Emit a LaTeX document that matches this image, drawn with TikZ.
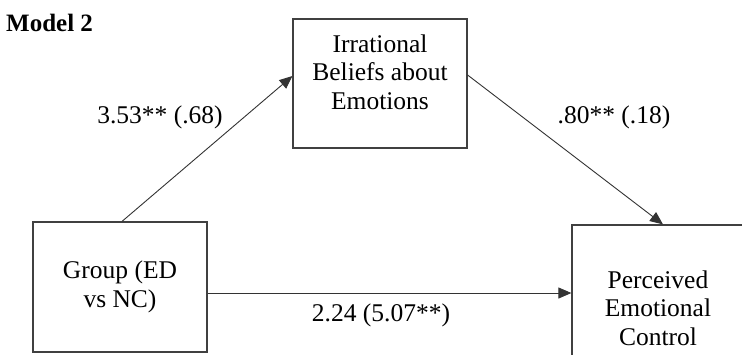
\documentclass[tikz,border=0pt]{standalone}
\usepackage{fontspec}
\setmainfont{Liberation Serif}
\usepackage{xcolor}
\usetikzlibrary{arrows.meta,positioning}

\begin{document}
\begin{tikzpicture}[
    x=1pt, y=-1pt,
    every node/.style={font=\fontsize{25.5}{28.5}\selectfont},
    box/.style={rectangle, draw=black!75, line width=1.2pt, inner sep=0pt},
    txt/.style={align=center, inner sep=0pt},
    coef/.style={inner sep=0pt},
    arrow/.style={-{Triangle[length=13pt, width=11pt]}, draw=black!80, line width=0.9pt}
]
    \useasboundingbox (0,0) rectangle (742,354);
    \clip (0,0) rectangle (742,354);

    % Title
    \node[anchor=west, inner sep=0pt, font=\fontsize{25}{28}\selectfont\bfseries] (title) at (6,23) {Model 2};

    % Boxes
    \node[box, minimum width=174pt, minimum height=129pt] (beliefs) at (380,83.5) {};
    \node[box, minimum width=174pt, minimum height=130pt] (group) at (120,287) {};
    \node[box, minimum width=182pt, minimum height=140pt] (control) at (663,295) {};

    % Box texts
    \node[txt] (beliefstext) at (380,72) {Irrational\\Beliefs about\\Emotions};
    \node[txt] (grouptext) at (120,287) {Group (ED\\vs NC)};
    \node[txt] (controltext) at (658,308) {Perceived\\Emotional\\Control};

    % Coefficients
    \node[coef] (apath) at (160,117) {3.53** (.68)};
    \node[coef] (bpath) at (614,117) {.80** (.18)};
    \node[coef] (cpath) at (381,315) {2.24 (5.07**)};

    % Arrows
    \draw[arrow] ([xshift=2pt]group.north) -- ([yshift=7.5pt]beliefs.west);
    \draw[arrow] ([yshift=8.5pt]beliefs.east) -- (control.north);
    \draw[arrow] ([yshift=-6pt]group.east) -- ([yshift=-6pt]group.east -| control.west);
\end{tikzpicture}
\end{document}
